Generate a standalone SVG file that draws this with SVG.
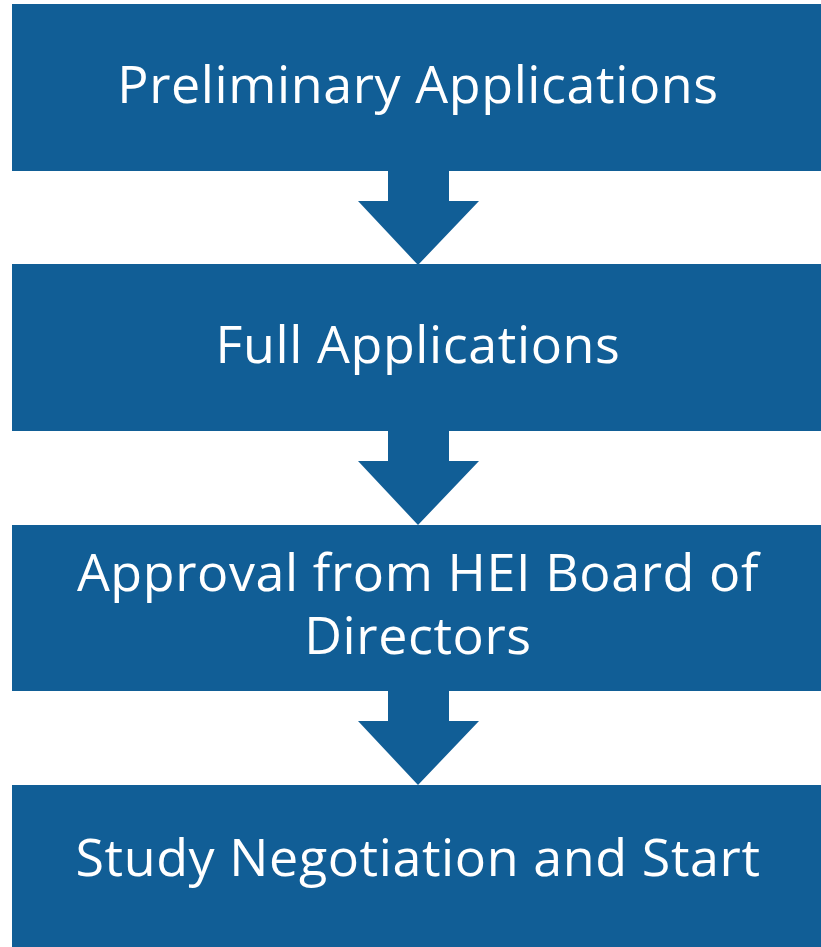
<svg xmlns="http://www.w3.org/2000/svg" width="821" height="947" viewBox="0 0 821 947">
<style>
.box{fill:#115E96}
.arrow{fill:#115E96}
.t{font-family:"Open Sans","Liberation Sans",sans-serif;font-size:52px;letter-spacing:0.6px;fill:#FFFFFF;text-anchor:middle}
</style>
<rect width="821" height="947" fill="#FFFFFF"/>
<g id="connectors">
<polygon class="arrow" points="388,171 449,171 449,201 479,201 418,265 358,201 388,201"/>
<polygon class="arrow" points="388,431 449,431 449,461 479,461 418,525 358,461 388,461"/>
<polygon class="arrow" points="388,691 449,691 449,721 479,721 418,785 358,721 388,721"/>
</g>
<g id="node1">
<rect class="box" x="12" y="4" width="812" height="167"/>
<text class="t" x="418" y="103">Preliminary Applications</text>
</g>
<g id="node2">
<rect class="box" x="12" y="264" width="812" height="167"/>
<text class="t" x="418" y="363">Full Applications</text>
</g>
<g id="node3">
<rect class="box" x="12" y="525" width="812" height="166"/>
<text class="t" x="418" y="591">Approval from HEI Board of<tspan x="418" y="654">Directors</tspan></text>
</g>
<g id="node4">
<rect class="box" x="12" y="785" width="812" height="170"/>
<text class="t" x="418" y="876">Study Negotiation and Start</text>
</g>
</svg>
